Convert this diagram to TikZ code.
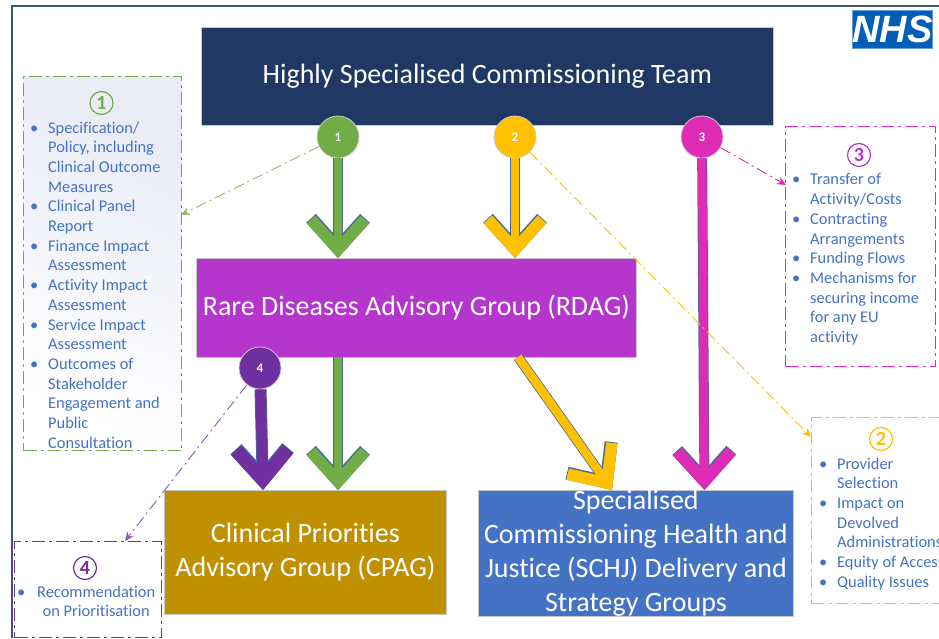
\documentclass[tikz,border=0pt]{standalone}
\usepackage{fontspec}
\setmainfont[Ligatures=NoCommon]{Carlito}
\newfontfamily\logofont{Liberation Sans}
\usetikzlibrary{arrows.meta}
\definecolor{teamblue}{HTML}{1F3864}
\definecolor{rdagpurple}{HTML}{B536CC}
\definecolor{cpaggold}{HTML}{BF9000}
\definecolor{schjblue}{HTML}{4472C4}
\definecolor{onegreen}{HTML}{70AD47}
\definecolor{twoyellow}{HTML}{FFC000}
\definecolor{threepink}{HTML}{DE2CB6}
\definecolor{fourpurple}{HTML}{7030A0}
\definecolor{framecol}{HTML}{3B5573}
\definecolor{edgecol}{HTML}{44689A}
\definecolor{nhsblue}{HTML}{005EB8}
\definecolor{paleblue}{HTML}{E9EBF5}
\newcommand{\itm}{\llap{\textbullet\hspace{10pt}}}

\begin{document}
\begin{tikzpicture}[x = 1pt, y = -1pt]
\tikzstyle{BigBox}=[shape = rectangle, anchor = north west, inner sep = 0pt, draw = black!22, line width = 0.8pt, text = white, align = center, font = \fontsize{28}{34}\selectfont]
\tikzstyle{NumDot}=[shape = circle, minimum size = 42pt, inner sep = 0pt, draw = black!20, line width = 0.8pt, text = white, font = \fontsize{13}{15}\selectfont\bfseries]
\tikzstyle{NoteBox}=[shape = rectangle, anchor = north west, inner sep = 0pt, line width = 1pt, dash pattern = on 13pt off 4pt on 3pt off 4pt]
\tikzstyle{NoteText}=[anchor = north west, inner sep = 0pt, text = schjblue, align = left, font = \fontsize{16.4}{19.7}\selectfont]
\tikzstyle{NumRing}=[shape = circle, minimum size = 23pt, inner sep = 0pt, draw, line width = 1.2pt, font = \fontsize{20}{20}\selectfont\bfseries]
\tikzstyle{Lead}=[line width = 0.9pt, dash pattern = on 11pt off 4pt on 2pt off 4pt, -{Stealth[length = 9pt, width = 8pt]}]
\tikzstyle{Fat}=[line width = 8.5pt, -{Straight Barb[length = 30pt, width = 54pt, line width = 11.5pt]}, preaction = {draw = edgecol, line width = 10pt, -{Straight Barb[length = 30pt, width = 54pt, line width = 13pt]}}]
\tikzstyle{FatWide}=[line width = 10.5pt, -{Straight Barb[length = 30pt, width = 52pt, line width = 13.5pt]}, preaction = {draw = edgecol, line width = 12pt, -{Straight Barb[length = 30pt, width = 52pt, line width = 15pt]}}]

\useasboundingbox (0,0) rectangle (939,638);
\clip (0,0) rectangle (939,638);
\coordinate (f0) at (11.5,638);
\coordinate (f1) at (11.5,6);
\coordinate (f2) at (939,6);
\draw[framecol, line width = 2pt] (f0) -- (f1) -- (f2);

\node[BigBox, fill = teamblue, minimum width = 572pt, minimum height = 98pt] (team) at (201,27) {Highly Specialised Commissioning Team};
\node[BigBox, fill = rdagpurple, minimum width = 440pt, minimum height = 99pt] (rdag) at (196,258) {Rare Diseases Advisory Group (RDAG)};
\node[BigBox, fill = cpaggold, minimum width = 282pt, minimum height = 124pt] (cpag) at (164,490) {Clinical Priorities\\Advisory Group (CPAG)};
\node[BigBox, fill = schjblue, minimum width = 315pt, minimum height = 124pt] (schj) at (478,490) {Specialised\\Commissioning Health and\\Justice (SCHJ) Delivery and\\Strategy Groups};

\node[NoteBox, draw = onegreen, top color = paleblue, bottom color = white, shading angle = -25, minimum width = 158pt, minimum height = 374pt] (b1) at (23,76) {};
\node[NoteBox, draw = threepink, minimum width = 150pt, minimum height = 240pt] (b3) at (785,126) {};
\node[NoteBox, draw = twoyellow, minimum width = 140pt, minimum height = 186pt] (b2) at (811,417) {};
\node[NoteBox, draw = fourpurple, minimum width = 147pt, minimum height = 96pt] (b4) at (14,541) {};

\node[NumRing, draw = onegreen, text = onegreen] (r1) at (101.5,103) {1};
\node[NumRing, draw = rdagpurple, text = rdagpurple] (r3) at (859,155) {3};
\node[NumRing, draw = twoyellow, text = twoyellow] (r2) at (881,439) {2};
\node[NumRing, draw = fourpurple, text = fourpurple] (r4) at (85,568) {4};

\node[NoteText] (t1) at (48,121.5) {\itm Specification/\\Policy, including\\Clinical Outcome\\Measures\\\itm Clinical Panel\\Report\\\itm Finance Impact\\Assessment\\\itm Activity Impact\\Assessment\\\itm Service Impact\\Assessment\\\itm Outcomes of\\Stakeholder\\Engagement and\\Public\\Consultation};
\node[NoteText] (t3) at (810,173.5) {\itm Transfer of\\Activity/Costs\\\itm Contracting\\Arrangements\\\itm Funding Flows\\\itm Mechanisms for\\securing income\\for any EU\\activity};
\node[NoteText] (t2) at (837,457.5) {\itm Provider\\Selection\\\itm Impact on\\Devolved\\Administrations\\\itm Equity of Access\\\itm Quality Issues};
\node[NoteText, align = center] (t4) at (37,585.5) {\llap{\textbullet\hspace{12pt}}Recommendation\\on Prioritisation};

\node[NumDot, fill = onegreen] (n1) at (338,137) {1};
\node[NumDot, fill = twoyellow] (n2) at (515,137) {2};
\node[NumDot, fill = threepink] (n3) at (702,137) {3};
\node[NumDot, fill = fourpurple] (n4) at (260,368) {4};

\node[shape = rectangle, anchor = north west, inner sep = 0pt, fill = nhsblue, draw = nhsblue!60!white, line width = 0.6pt, minimum width = 80pt, minimum height = 38pt, text = white, font = \fontsize{38}{38}\logofont\bfseries\itshape] (nhs) at (852,10) {NHS};

\coordinate (a1) at (338,258);
\coordinate (a2) at (515,258);
\coordinate (a3) at (704.5,490);
\coordinate (a4) at (263,490);
\coordinate (a5) at (338,357);
\coordinate (a6) at (338,490);
\coordinate (a7) at (518,357);
\coordinate (a8) at (612,490);
\coordinate (c1) at (181,215);
\coordinate (c2) at (811,437);
\coordinate (c3) at (786,185);
\coordinate (c4) at (125,541);

\draw[Fat, onegreen] (n1) -- (a1);
\draw[Fat, twoyellow] (n2) -- (a2);
\draw[Fat, threepink] (n3) -- (a3);
\draw[FatWide, fourpurple] (n4) -- (a4);
\draw[Fat, onegreen] (a5) -- (a6);
\draw[Fat, twoyellow] (a7) -- (a8);

\draw[Lead, onegreen!80!white] (n1) -- (c1);
\draw[Lead, twoyellow] (n2) -- (c2);
\draw[Lead, threepink] (n3) -- (c3);
\draw[Lead, fourpurple!80!white] (n4) -- (c4);
\end{tikzpicture}
\end{document}
